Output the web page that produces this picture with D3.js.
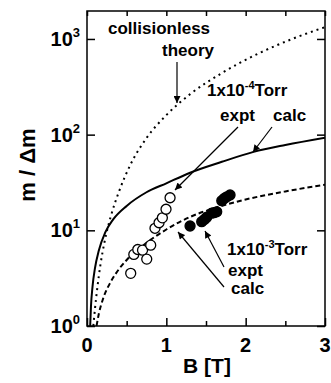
<!DOCTYPE html>
<html lang="en">
<head>
    <meta charset="UTF-8">
    <title>m / dm vs B</title>
    <script src="https://d3js.org/d3.v7.min.js"></script>
    <style>
        body { margin: 0; background: #fff; }
        text {
            font-family: "Liberation Sans", Arial, sans-serif;
            font-weight: bold;
            fill: #000;
        }
    </style>
</head>
<body>
    <svg width="331" height="383"></svg>
    <script>
        // values
        const xTicks = [0, 1, 2, 3];
        const xMinor = [0.5, 1.5, 2.5];
        const yTicks = [1, 10, 100, 1000];
        const yTickExp = ['0', '1', '2', '3'];

        // collisionless theory (dotted)
        const theoryB = [0.08, 0.1, 0.13, 0.17, 0.22, 0.3, 0.4, 0.55, 0.75, 1.0, 1.3, 1.7, 2.2, 2.6, 3.0];
        const theoryM = [1, 1.5, 2.5, 4.4, 7.5, 14, 25, 49, 92, 160, 265, 440, 730, 1010, 1330];

        // 1x10^-4 Torr calc (solid)
        const calc4B = [0.04, 0.05, 0.07, 0.1, 0.15, 0.23, 0.33, 0.5, 0.75, 1.0, 1.3, 1.7, 2.1, 2.5, 3.0];
        const calc4M = [1, 1.6, 2.6, 4, 6.2, 9.5, 13, 18, 25, 31, 40, 52, 66, 78, 93];

        // 1x10^-3 Torr calc (dashed)
        const calc3B = [0.12, 0.15, 0.2, 0.3, 0.4, 0.5, 0.75, 1.0, 1.3, 1.6, 2.0, 2.5, 3.0];
        const calc3M = [1, 1.35, 1.9, 2.9, 3.9, 4.9, 7.4, 10.2, 13.8, 17, 21, 25.5, 30];

        // 1x10^-4 Torr expt (open circles)
        const expt4B = [0.551, 0.59, 0.64, 0.70, 0.753, 0.803, 0.857, 0.908, 0.95, 0.996, 1.047];
        const expt4M = [3.55, 5.6, 6.3, 6.2, 5.0, 7.0, 10.5, 12.0, 13.5, 16.6, 21.9];

        // 1x10^-3 Torr expt (filled circles)
        const expt3B = [1.299, 1.446, 1.48, 1.51, 1.572, 1.60, 1.635, 1.699, 1.73, 1.762, 1.803];
        const expt3M = [11.1, 12.3, 13, 13.7, 15.1, 15.3, 15.6, 20.4, 21.5, 22.4, 23.4];

        const svg = d3.select('svg');
        const pLeft = 87, pRight = 325, pTop = 11, pBottom = 326;

        const x = d3.scaleLinear().domain([0, 3]).range([pLeft, pRight]);
        const y = d3.scaleLog().domain([1, 1960]).range([pBottom, pTop]);

        const zip = (a, b) => a.map((v, i) => [v, b[i]]);

        const defs = svg.append('defs');
        defs.append('marker')
            .attr('id', 'head')
            .attr('viewBox', '0 0 10 10')
            .attr('refX', 10).attr('refY', 5)
            .attr('markerWidth', 9).attr('markerHeight', 7)
            .attr('markerUnits', 'userSpaceOnUse')
            .attr('orient', 'auto')
            .append('path').attr('d', 'M0,0L10,5L0,10z').attr('fill', '#000');
        defs.append('clipPath').attr('id', 'plot')
            .append('rect').attr('x', pLeft).attr('y', pTop)
            .attr('width', pRight - pLeft).attr('height', pBottom - pTop);

        const line = d3.line()
            .x(d => x(d[0]))
            .y(d => y(d[1]))
            .curve(d3.curveMonotoneX);

        const curves = svg.append('g').attr('clip-path', 'url(#plot)');
        curves.append('path')
            .attr('d', line(zip(theoryB, theoryM)))
            .attr('fill', 'none').attr('stroke', '#000')
            .attr('stroke-width', 2).attr('stroke-dasharray', '2,4');
        curves.append('path')
            .attr('d', line(zip(calc4B, calc4M)))
            .attr('fill', 'none').attr('stroke', '#000')
            .attr('stroke-width', 2);
        curves.append('path')
            .attr('d', line(zip(calc3B, calc3M)))
            .attr('fill', 'none').attr('stroke', '#000')
            .attr('stroke-width', 2).attr('stroke-dasharray', '5,3');

        // points
        svg.append('g').selectAll('circle')
            .data(zip(expt4B, expt4M))
            .enter().append('circle')
            .attr('cx', d => x(d[0])).attr('cy', d => y(d[1]))
            .attr('r', 5)
            .attr('fill', '#fff').attr('stroke', '#000').attr('stroke-width', 1.3);
        svg.append('g').selectAll('circle')
            .data(zip(expt3B, expt3M))
            .enter().append('circle')
            .attr('cx', d => x(d[0])).attr('cy', d => y(d[1]))
            .attr('r', 5)
            .attr('fill', '#000').attr('stroke', '#000').attr('stroke-width', 1.3);

        // frame
        svg.append('rect')
            .attr('x', pLeft).attr('y', pTop)
            .attr('width', pRight - pLeft).attr('height', pBottom - pTop)
            .attr('fill', 'none').attr('stroke', '#000').attr('stroke-width', 1.5);

        // inward ticks
        const axB = svg.append('g').attr('transform', `translate(0,${pBottom})`)
            .call(d3.axisTop(x).tickValues(xTicks).tickSize(8).tickFormat(''));
        const axBm = svg.append('g').attr('transform', `translate(0,${pBottom})`)
            .call(d3.axisTop(x).tickValues(xMinor).tickSize(5).tickFormat(''));
        const axT = svg.append('g').attr('transform', `translate(0,${pTop})`)
            .call(d3.axisBottom(x).tickValues(xTicks.concat(xMinor)).tickSize(5).tickFormat(''));
        const axL = svg.append('g').attr('transform', `translate(${pLeft},0)`)
            .call(d3.axisRight(y).tickValues(yTicks).tickSize(8).tickFormat(''));
        const axR = svg.append('g').attr('transform', `translate(${pRight},0)`)
            .call(d3.axisLeft(y).tickValues(yTicks).tickSize(8).tickFormat(''));
        [axB, axBm, axT, axL, axR].forEach(g => {
            g.select('.domain').remove();
            g.selectAll('line').attr('stroke', '#000').attr('stroke-width', 1.5);
        });

        // tick labels
        svg.append('g').selectAll('text')
            .data(xTicks)
            .enter().append('text')
            .attr('x', d => x(d)).attr('y', 352)
            .attr('text-anchor', 'middle')
            .attr('font-size', 20)
            .text(d => d);

        const yl = svg.append('g').selectAll('text')
            .data(yTicks)
            .enter().append('text')
            .attr('x', 80).attr('y', d => y(d) + 7)
            .attr('text-anchor', 'end')
            .attr('font-size', 20);
        yl.append('tspan').text('10');
        yl.append('tspan').attr('font-size', 13).attr('dy', -9).text((d, i) => yTickExp[i]);

        // axis titles
        svg.append('text')
            .attr('x', 207).attr('y', 373)
            .attr('text-anchor', 'middle')
            .attr('font-size', 21)
            .text('B [T]');
        svg.append('text')
            .attr('transform', 'translate(35,165) rotate(-90)')
            .attr('text-anchor', 'middle')
            .attr('font-size', 22)
            .text('m / \u0394m');

        // annotations
        const note = (tx, ty, s) => svg.append('text')
            .attr('x', tx).attr('y', ty).attr('font-size', 17).text(s);
        note(108, 34, 'collisionless');
        note(162, 56, 'theory');
        const t4 = svg.append('text').attr('x', 207).attr('y', 96).attr('font-size', 17);
        t4.append('tspan').text('1x10');
        t4.append('tspan').attr('font-size', 11).attr('dy', -7).text('-4');
        t4.append('tspan').attr('dy', 7).text('Torr');
        note(220, 121, 'expt');
        note(273, 121, 'calc');
        const t3 = svg.append('text').attr('x', 227).attr('y', 255).attr('font-size', 17);
        t3.append('tspan').text('1x10');
        t3.append('tspan').attr('font-size', 11).attr('dy', -7).text('-3');
        t3.append('tspan').attr('dy', 7).text('Torr');
        note(228, 276, 'expt');
        note(231, 294, 'calc');

        // arrows
        const arrows = [
            [177, 62, 177, 103],
            [238, 127, 175, 190],
            [272, 127, 253, 152],
            [224, 267, 205, 231],
            [224, 287, 178, 232]
        ];
        svg.append('g').selectAll('line')
            .data(arrows)
            .enter().append('line')
            .attr('x1', d => d[0]).attr('y1', d => d[1])
            .attr('x2', d => d[2]).attr('y2', d => d[3])
            .attr('stroke', '#000').attr('stroke-width', 1.2)
            .attr('marker-end', 'url(#head)');
    </script>
</body>
</html>
